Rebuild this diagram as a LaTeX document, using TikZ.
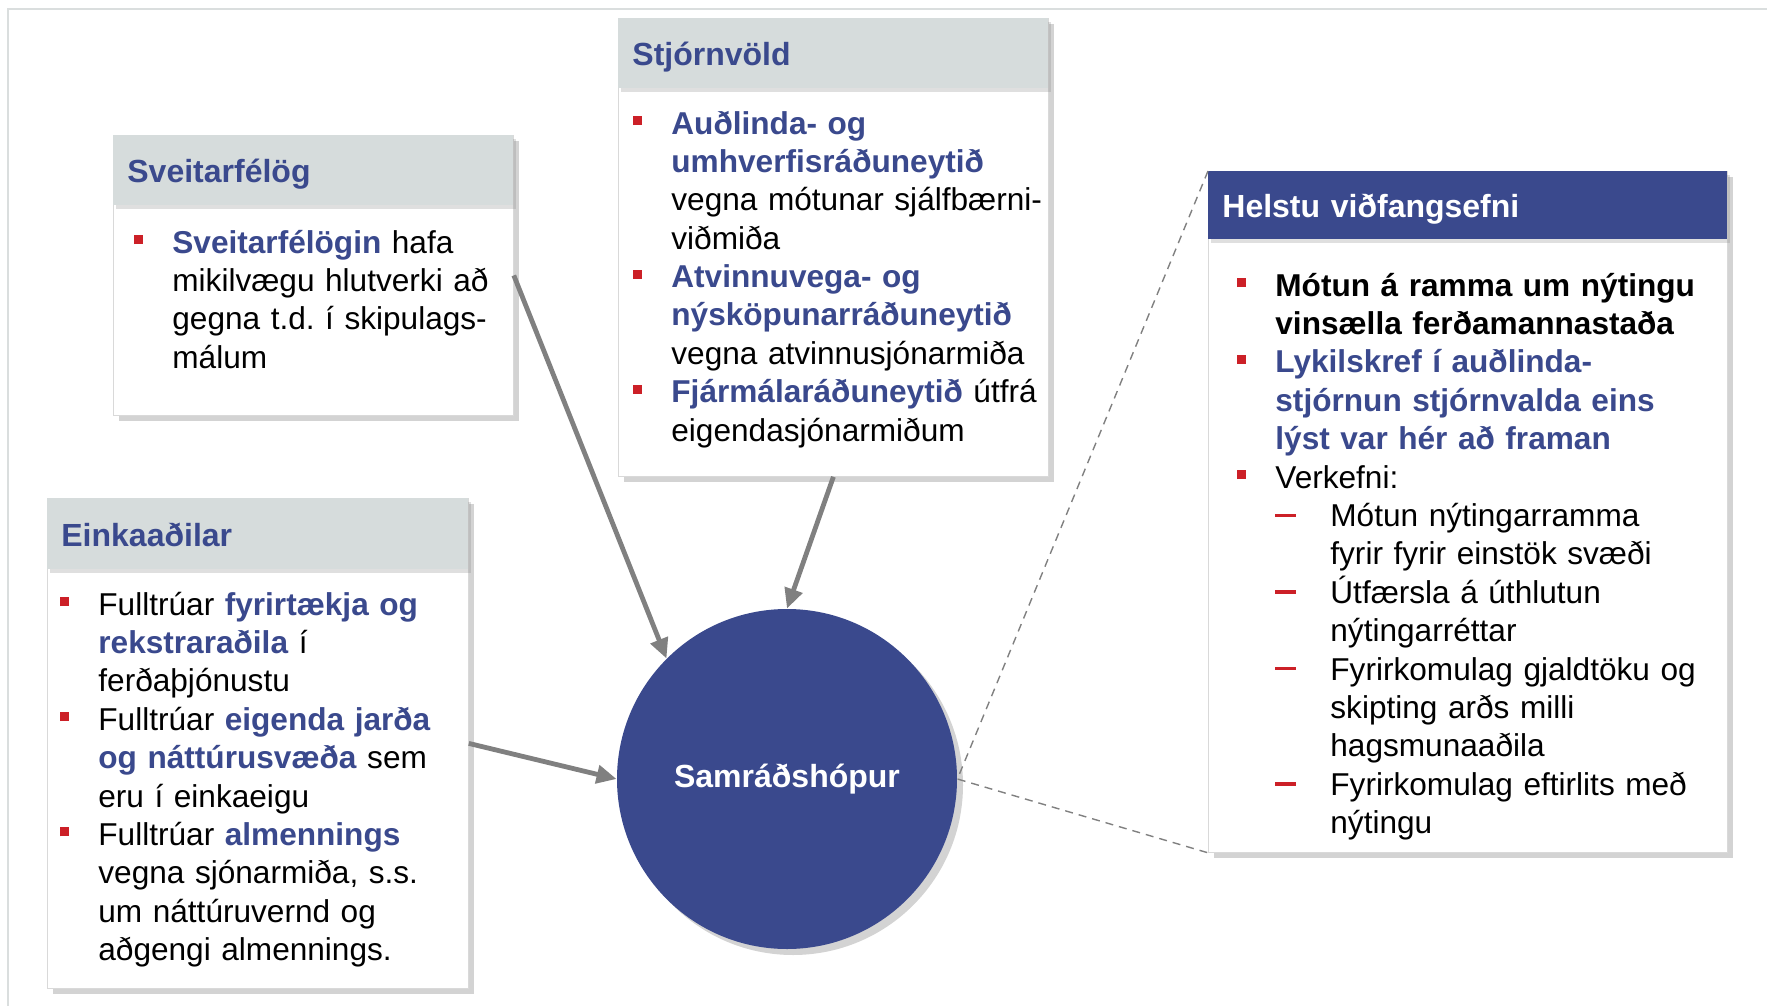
\documentclass[tikz,border=0pt]{standalone}
\usepackage{fontspec}
\setmainfont{Liberation Sans}
\usetikzlibrary{arrows.meta,shadows}

\definecolor{navy}{RGB}{58,73,141}
\definecolor{hdrgray}{RGB}{214,220,220}
\definecolor{bulred}{RGB}{204,32,39}
\definecolor{arrgray}{RGB}{128,128,128}
\definecolor{framegray}{RGB}{218,222,222}

\frenchspacing
\newcommand{\kw}[1]{\textcolor{navy}{\textbf{#1}}}
\newcommand{\bul}{\textcolor{bulred}{\rule[4.5pt]{4.5pt}{4.5pt}}}
\newcommand{\dsh}{\textcolor{bulred}{\rule[4.8pt]{10.5pt}{1.6pt}}}
\newcommand{\itm}[1]{\hangindent=19pt\hangafter=1\makebox[19pt][l]{\bul}#1\par}
\newcommand{\subitm}[1]{\hangindent=46.5pt\hangafter=1\makebox[46.5pt][l]{\hspace{19pt}\dsh}#1\par}

\tikzset{
	bodybox/.style={draw=black!15, fill=white, inner sep=0pt, anchor=north west,
		drop shadow={shadow xshift=3pt, shadow yshift=-3pt, opacity=0.35}},
	hdr/.style={fill=hdrgray, inner xsep=7pt, inner ysep=0pt, anchor=north west,
		align=left, text=navy, font=\fontsize{16}{19.2}\selectfont\bfseries,
		text height=12.5pt, text depth=0pt,
		drop shadow={shadow xshift=1.5pt, shadow yshift=-2pt, opacity=0.25}},
	txt/.style={inner sep=0pt, anchor=base west, align=left, text width=250pt,
		font=\fontsize{15.8}{19.2}\selectfont},
	arr/.style={draw=arrgray, line width=2.4pt, -{Triangle[length=10pt,width=9pt]}},
	link/.style={draw=arrgray, line width=0.7pt, dash pattern=on 4pt off 3pt}
}

\begin{document}
\begin{tikzpicture}[x=0.5pt, y=-0.5pt]
	\useasboundingbox (0,0) rectangle (1767,1006);
	% Rahmen
	\draw[framegray, line width=1pt] (1767,9) -- (8,9) -- (8,1006);

	% Sveitarfélög
	\node[bodybox, minimum width=200pt, minimum height=140pt] (sveit) at (113,135) {};
	\node[hdr, text width=186pt, minimum height=35pt] (sveit-h) at (sveit.north west) {Sveitarfélög};
	\node[txt] (sveit-t) at (134,253) {%
		\itm{\kw{Sveitarfélögin} hafa\newline mikilvægu hlutverki að\newline gegna t.d. í skipulags-\newline málum}};

	% Stjórnvöld
	\node[bodybox, minimum width=215pt, minimum height=229pt] (stjorn) at (618,18) {};
	\node[hdr, text width=201pt, minimum height=35pt] (stjorn-h) at (stjorn.north west) {Stjórnvöld};
	\node[txt] (stjorn-t) at (633,134) {%
		\itm{\kw{Auðlinda- og}\newline \kw{umhverfisráðuneytið}\newline vegna mótunar sjálfbærni-\newline viðmiða}
		\itm{\kw{Atvinnuvega- og}\newline \kw{nýsköpunarráðuneytið}\newline vegna atvinnusjónarmiða}
		\itm{\kw{Fjármálaráðuneytið} útfrá\newline eigendasjónarmiðum}};

	% Einkaaðilar
	\node[bodybox, minimum width=210.5pt, minimum height=245pt] (eink) at (47,498) {};
	\node[hdr, text width=196.5pt, minimum height=35.5pt] (eink-h) at (eink.north west) {Einkaaðilar};
	\node[txt] (eink-t) at (60,615) {%
		\itm{Fulltrúar \kw{fyrirtækja og}\newline \kw{rekstraraðila} í\newline ferðaþjónustu}
		\itm{Fulltrúar \kw{eigenda jarða}\newline \kw{og náttúrusvæða} sem\newline eru í einkaeigu}
		\itm{Fulltrúar \kw{almennings}\newline vegna sjónarmiða, s.s.\newline um náttúruvernd og\newline aðgengi almennings.}};

	% Helstu viðfangsefni
	\node[bodybox, minimum width=259.5pt, minimum height=340.5pt] (helstu) at (1208,171) {};
	\node[hdr, fill=navy, text=white, text width=245.5pt, minimum height=34pt] (helstu-h)
		at (helstu.north west) {Helstu viðfangsefni};
	\node[txt] (helstu-t) at (1237,296) {%
		\itm{\textbf{Mótun á ramma um nýtingu}\newline \textbf{vinsælla ferðamannastaða}}
		\itm{\kw{Lykilskref í auðlinda-}\newline \kw{stjórnun stjórnvalda eins}\newline \kw{lýst var hér að framan}}
		\itm{Verkefni:}
		\subitm{Mótun nýtingarramma\newline fyrir fyrir einstök svæði}
		\subitm{Útfærsla á úthlutun\newline nýtingarréttar}
		\subitm{Fyrirkomulag gjaldtöku og\newline skipting arðs milli\newline hagsmunaaðila}
		\subitm{Fyrirkomulag eftirlits með\newline nýtingu}};

	% Samráðshópur
	\node[circle, fill=navy, minimum size=170pt, inner sep=0pt, text=white,
		font=\fontsize{16}{19.2}\selectfont\bfseries,
		drop shadow={shadow xshift=3pt, shadow yshift=-3pt, opacity=0.35}] (samrad)
		at (787,779) {Samráðshópur};

	% Pfeile
	\draw[arr] (sveit.east) -- (samrad.135);
	\draw[arr] (stjorn.south) -- (samrad.north);
	\draw[arr] (eink.east) -- (samrad.west);
	\draw[link] (helstu.north west) -- (samrad.east) -- (helstu.south west);
\end{tikzpicture}
\end{document}
